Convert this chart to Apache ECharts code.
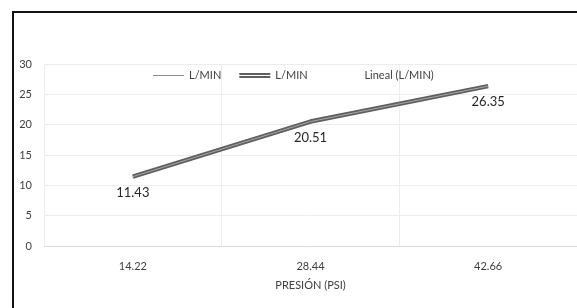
<!DOCTYPE html>
<html>
<head>
    <meta charset="utf-8">
    <script src="https://cdn.jsdelivr.net/npm/echarts@6/dist/echarts.min.js"></script>
    <style>
        html, body { margin: 0; padding: 0; background: #fff; overflow: hidden; }
        #container { width: 577px; height: 308px; }
    </style>
</head>
<body>
<div id="container"></div>
<script>
    // datos
    let presion = ['14.22', '28.44', '42.66'];
    let caudal = [11.43, 20.51, 26.35];
    let yTicks = [0, 5, 10, 15, 20, 25, 30];

    let dom = document.getElementById("container");
    let myChart = echarts.init(dom);
    let fuente = 'Lato, "DejaVu Sans", sans-serif';
    let option = {
        animation: false,
        textStyle: { fontFamily: fuente },
        // marco del grafico (solo se ven el borde izquierdo y el superior)
        graphic: [
            { type: 'line', shape: { x1: 12, y1: 12, x2: 577, y2: 12 }, style: { stroke: '#111', lineWidth: 2 } },
            { type: 'line', shape: { x1: 13, y1: 11, x2: 13, y2: 308 }, style: { stroke: '#111', lineWidth: 2 } }
        ],
        legend: {
            top: 65,
            left: 148,
            itemWidth: 31,
            itemHeight: 8,
            itemGap: 18,
            textStyle: { color: '#404040', fontSize: 11, fontFamily: fuente },
            data: [
                { name: 'L/MIN', icon: 'path://M0,4L31,4L31,5L0,5Z', itemStyle: { color: '#8c8c8c', opacity: 1 } },
                { name: 'L/MIN ', icon: 'path://M0,2L31,2L31,4L0,4ZM0,5L31,5L31,7L0,7Z', itemStyle: { color: '#5f5f5f', opacity: 1 } },
                { name: 'Lineal (L/MIN)', icon: 'path://M0,4L31,4L31,5L0,5Z', itemStyle: { color: '#ffffff', opacity: 0 } }
            ]
        },
        grid: { left: 44, top: 64, width: 537, height: 182 },
        xAxis: {
            type: 'category',
            data: presion,
            boundaryGap: true,
            name: 'PRESIÓN (PSI)',
            nameLocation: 'middle',
            nameGap: 34,
            nameTextStyle: { color: '#404040', fontSize: 11, fontFamily: fuente },
            axisLine: { lineStyle: { color: '#d9d9d9', width: 1 } },
            axisTick: { show: false },
            axisLabel: { color: '#404040', fontSize: 11, margin: 15 },
            splitLine: { show: true, lineStyle: { color: '#ececec' } }
        },
        yAxis: {
            type: 'value',
            min: yTicks[0],
            max: yTicks[yTicks.length - 1],
            interval: 5,
            axisLine: { show: false },
            axisTick: { show: false },
            axisLabel: { color: '#404040', fontSize: 11, margin: 12 },
            splitLine: { lineStyle: { color: '#ececec' } }
        },
        series: [
            {
                name: 'L/MIN',
                type: 'line',
                data: caudal,
                symbol: 'none',
                lineStyle: { color: '#8c8c8c', width: 1 }
            },
            {
                name: 'L/MIN ',
                type: 'line',
                data: caudal,
                symbol: 'circle',
                symbolSize: 1,
                itemStyle: { color: 'rgba(0,0,0,0)' },
                lineStyle: { color: '#5f5f5f', width: 4.5 },
                label: {
                    show: true,
                    position: 'bottom',
                    distance: 9,
                    color: '#262626',
                    fontSize: 13,
                    fontFamily: fuente
                }
            },
            {
                name: 'L/MIN ',
                type: 'line',
                data: caudal,
                symbol: 'none',
                silent: true,
                lineStyle: { color: '#a8a8a8', width: 1 }
            },
            {
                name: 'Lineal (L/MIN)',
                type: 'line',
                data: [],
                symbol: 'none',
                lineStyle: { color: '#cccccc', width: 1, opacity: 0 }
            }
        ]
    };
    myChart.setOption(option);
</script>
</body>
</html>
